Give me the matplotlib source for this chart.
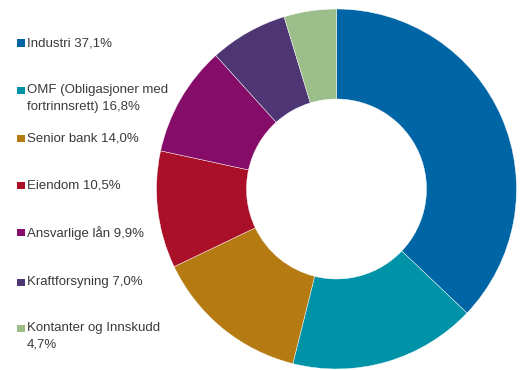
import matplotlib
matplotlib.use("Agg")
import matplotlib.pyplot as plt
from matplotlib.patches import Rectangle

# portfolio split, clockwise from 12 o'clock
labels = ["Industri", "OMF (Obligasjoner med\nfortrinnsrett)", "Senior bank",
          "Eiendom", "Ansvarlige lån", "Kraftforsyning", "Kontanter og Innskudd\n"]
shares = [37.1, 16.8, 14.0, 10.5, 9.9, 7.0, 4.7]
colors = ["#0065A4", "#0093A8", "#B67A12", "#AA1028", "#850C68", "#4E3675", "#9CBE8B"]

W, H = 522, 370
fig = plt.figure(figsize=(W / 100, H / 100), dpi=100)

# donut: centre (336, 189), outer radius 180 px
cx, cy, r = 336.5, 189, 180
ax = fig.add_axes([(cx - r) / W, 1 - (cy + r) / H, 2 * r / W, 2 * r / H])
ax.pie(shares, colors=colors, startangle=90, counterclock=False, radius=1,
       wedgeprops=dict(width=0.5, edgecolor="white", linewidth=0.3))
ax.set_xlim(-1, 1)
ax.set_ylim(-1, 1)
ax.set_aspect("equal")
ax.axis("off")

# legend column on the left
row_y = [43, 90, 138, 185, 232, 282, 328]
for lab, val, col, y in zip(labels, shares, colors, row_y):
    fig.add_artist(Rectangle((17 / W, 1 - (y + 4) / H), 7.5 / W, 7.5 / H,
                             transform=fig.transFigure, color=col, lw=0))
    txt = f"{lab} {val:.1f}%".replace(".", ",").replace("\n ", "\n")
    fig.text(27 / W, 1 - (y - 5.5) / H, txt, ha="left", va="top",
             fontsize=9.5, family="Liberation Sans", color="#3a3a3a",
             linespacing=1.45)

fig.savefig("out.png", dpi=100)
